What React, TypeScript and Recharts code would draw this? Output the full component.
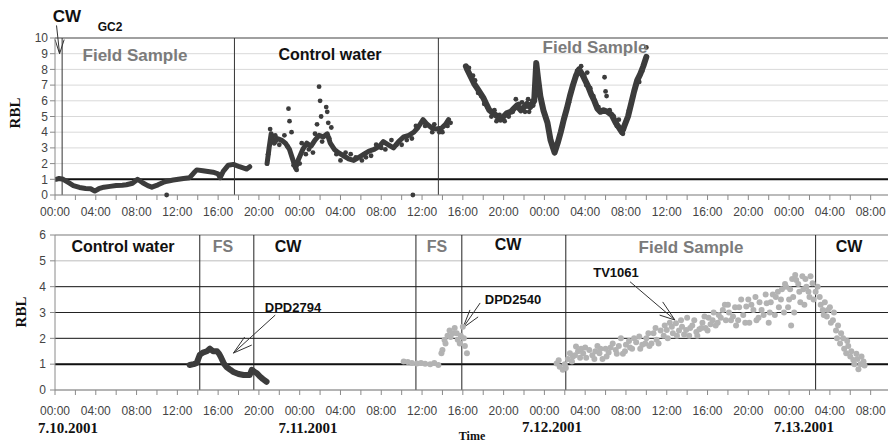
import React from 'react';
import {
  ComposedChart,
  Line,
  Scatter,
  XAxis,
  YAxis,
  CartesianGrid,
  ReferenceLine,
} from 'recharts';

// hours since 7.10.2001 00:00
const hourTicks = [
  0, 2, 4, 6, 8, 10, 12, 14, 16, 18, 20, 22, 24, 26, 28, 30, 32, 34, 36, 38, 40,
  42, 44, 46, 48, 50, 52, 54, 56, 58, 60, 62, 64, 66, 68, 70, 72, 74, 76, 78, 80,
];
const clockLabels = ['00:00', '04:00', '08:00', '12:00', '16:00', '20:00'];
const topYTicks = [0, 1, 2, 3, 4, 5, 6, 7, 8, 9, 10];
const bottomYTicks = [0, 1, 2, 3, 4, 5, 6];

// section boundaries (hours)
const topDividers = [0.7, 17.6, 37.6];
const bottomDividers = [14.2, 19.5, 35.4, 39.9, 50.1, 74.6];

// ---- top panel: GC2 ----
const gc2FieldA: [number, number][] = [
  [0.1, 1.0], [0.4, 1.05], [0.8, 1.0], [1.3, 0.8], [1.8, 0.6], [2.4, 0.48], [3.0, 0.42],
  [3.5, 0.4], [3.9, 0.25], [4.3, 0.4], [4.8, 0.5], [5.4, 0.55], [6.0, 0.6], [6.6, 0.62],
  [7.0, 0.65], [7.6, 0.75], [8.1, 1.0], [8.6, 0.78], [9.1, 0.6], [9.5, 0.5], [10.1, 0.65],
  [10.6, 0.8], [11.0, 0.88], [11.6, 0.95], [12.1, 1.0], [12.6, 1.05], [13.2, 1.1],
  [13.6, 1.4], [13.9, 1.6], [14.5, 1.55], [15.0, 1.5], [15.5, 1.45], [16.0, 1.35],
  [16.2, 1.1], [16.5, 1.5], [17.0, 1.9], [17.5, 1.95], [18.1, 1.8], [18.8, 1.65], [19.1, 1.8],
];
const gc2Control: [number, number][] = [
  [20.8, 2.0], [21.0, 3.0], [21.2, 3.9], [21.5, 3.3], [21.8, 3.6], [22.2, 3.5], [22.6, 3.3],
  [23.0, 2.9], [23.3, 2.3], [23.6, 1.7], [23.9, 2.3], [24.3, 2.9], [24.7, 3.3], [25.1, 3.1],
  [25.5, 3.5], [25.9, 3.8], [26.3, 3.7], [26.7, 3.9], [27.0, 3.3], [27.4, 2.9], [27.8, 2.7],
  [28.3, 2.5], [28.8, 2.3], [29.3, 2.2], [29.8, 2.4], [30.3, 2.6], [30.8, 2.8], [31.3, 2.9],
  [31.8, 3.1], [32.2, 3.4], [32.7, 3.2], [33.2, 3.0], [33.7, 3.4], [34.2, 3.7], [34.7, 3.8],
  [35.2, 4.0], [35.6, 4.3], [36.1, 4.8], [36.5, 4.5], [36.9, 4.3], [37.4, 4.2], [37.9, 4.25],
  [38.3, 4.5], [38.6, 4.8],
];
const gc2FieldB: [number, number][] = [
  [40.3, 8.2], [40.5, 7.9], [40.8, 7.5], [41.1, 7.1], [41.4, 6.8], [41.7, 6.5], [42.0, 6.2],
  [42.3, 5.8], [42.6, 5.4], [43.0, 5.2], [43.4, 5.0], [43.7, 4.8], [44.0, 5.0], [44.3, 5.2],
  [44.7, 5.3], [45.0, 5.5], [45.3, 5.7], [45.7, 5.4], [46.0, 5.6], [46.3, 5.8], [46.6, 5.6],
  [47.0, 6.0], [47.2, 8.4], [47.4, 7.3], [47.6, 6.3], [47.9, 5.4], [48.3, 4.6], [48.6, 3.5],
  [49.0, 2.7], [49.3, 3.3], [49.6, 4.0], [49.9, 4.8], [50.2, 5.5], [50.5, 6.3], [50.8, 7.0],
  [51.1, 7.6], [51.4, 8.0], [51.7, 7.7], [52.0, 7.3], [52.3, 6.9], [52.6, 6.4], [52.9, 6.0],
  [53.2, 5.5], [53.5, 5.3], [53.8, 5.4], [54.2, 5.3], [54.6, 5.1], [55.0, 4.6], [55.3, 4.3],
  [55.6, 4.0], [55.9, 4.5], [56.2, 5.0], [56.5, 5.8], [56.8, 6.6], [57.1, 7.3], [57.4, 7.7],
  [57.7, 8.2], [58.0, 8.8],
];
const gc2Spread: [number, number][] = [
  [10.95, 0], [35.1, 0],
  [20.9, 2.6], [21.1, 4.2], [21.3, 3.4], [21.6, 3.8], [22.0, 3.2], [22.5, 3.8], [22.8, 3.1],
  [22.9, 5.5], [23.0, 4.7], [23.2, 4.0], [23.4, 1.9], [23.7, 1.6], [24.0, 2.0], [24.2, 3.3],
  [24.6, 2.6], [24.9, 2.9], [25.3, 2.7], [25.5, 3.9], [25.7, 4.5], [25.9, 6.9], [26.0, 6.0],
  [26.1, 5.0], [26.2, 3.4], [26.6, 5.6], [26.7, 5.3], [26.8, 4.6], [26.9, 3.6], [27.1, 4.3],
  [27.6, 2.6], [28.0, 2.2], [28.5, 2.7], [29.0, 2.6], [29.5, 2.4], [30.1, 2.2], [30.5, 2.4],
  [31.0, 2.5], [31.5, 3.2], [32.0, 3.0], [32.4, 2.9], [33.0, 3.5], [33.5, 3.2], [34.0, 3.2],
  [34.5, 3.5], [35.0, 3.6], [35.4, 4.4], [36.3, 4.4], [37.0, 4.0], [37.2, 4.5], [37.7, 4.0],
  [38.0, 4.0], [38.5, 4.4], [38.8, 4.6],
  [40.4, 8.0], [40.6, 8.1], [41.0, 7.6], [41.2, 7.3], [41.5, 6.5], [41.8, 6.3], [42.1, 5.8],
  [42.4, 5.6], [42.8, 5.0], [43.1, 5.4], [43.3, 4.7], [43.6, 5.1], [44.1, 4.7], [44.5, 5.0],
  [44.9, 5.3], [45.2, 6.1], [45.5, 5.8], [45.8, 5.9], [46.1, 5.3], [46.4, 6.1], [46.5, 5.3],
  [46.8, 6.0], [46.9, 5.7], [47.2, 7.9], [47.3, 6.8], [48.1, 5.0], [48.8, 3.1], [49.1, 2.9],
  [49.8, 4.4], [50.4, 5.9], [51.2, 7.9], [51.6, 8.2], [51.9, 7.6], [52.1, 7.0], [52.2, 7.8],
  [52.5, 6.8], [52.8, 6.3], [53.3, 5.6], [53.9, 7.5], [54.0, 6.6], [54.1, 6.3], [54.4, 5.4],
  [54.8, 5.0], [55.1, 4.4], [55.3, 4.8], [55.5, 4.2], [55.7, 3.9], [55.8, 4.2], [56.3, 5.4],
  [56.7, 6.3], [57.0, 7.0], [57.3, 7.2], [57.6, 7.9], [58.0, 9.4],
];

// ---- bottom panel: DPD2794 (dark) and DPD2540 / TV1061 (light) ----
const dpd2794: [number, number][] = [
  [13.2, 0.97], [13.6, 1.0], [13.9, 1.05], [14.2, 1.36], [14.5, 1.45], [14.9, 1.5],
  [15.2, 1.6], [15.5, 1.5], [15.9, 1.5], [16.1, 1.4], [16.3, 1.25], [16.6, 1.0], [16.8, 0.9],
  [17.2, 0.78], [17.5, 0.7], [18.0, 0.62], [18.5, 0.58], [19.1, 0.58], [19.3, 0.78],
  [19.6, 0.7], [19.8, 0.65], [20.1, 0.52], [20.4, 0.42], [20.75, 0.32],
];
const dpd2540: [number, number][] = [
  [34.2, 1.1], [34.6, 1.08], [35.0, 1.05], [35.5, 1.03], [35.9, 1.05], [36.3, 1.02],
  [36.8, 1.0], [37.2, 1.05], [37.6, 0.97], [37.9, 1.42], [38.0, 1.55], [38.2, 1.94],
  [38.3, 1.8], [38.5, 2.1], [38.7, 2.3], [38.8, 2.05], [39.0, 2.2], [39.2, 2.4], [39.4, 2.2],
  [39.5, 1.95], [39.7, 1.8], [39.8, 2.1], [40.0, 2.45], [40.1, 2.0], [40.2, 1.7], [40.4, 1.42],
];
const tv1061: [number, number][] = [
  [49.2, 1.03], [49.4, 1.15], [49.5, 0.9], [49.8, 0.78], [50.0, 1.0], [50.1, 0.85], [50.3, 1.2],
  [50.5, 1.42], [50.7, 1.1], [50.8, 1.3], [51.0, 1.35], [51.1, 1.68], [51.3, 1.5], [51.5, 1.25],
  [51.6, 1.6], [51.8, 1.42], [52.0, 1.65], [52.1, 1.25], [52.4, 1.55], [52.7, 1.35], [52.9, 1.2],
  [53.0, 1.5], [53.2, 1.7], [53.4, 1.42], [53.5, 1.6], [53.7, 1.2], [54.0, 1.6], [54.1, 1.3],
  [54.3, 1.45], [54.5, 1.65], [54.7, 1.8], [55.0, 1.55], [55.1, 1.4], [55.3, 1.7], [55.5, 2.0],
  [55.7, 1.4], [55.9, 1.5], [56.0, 1.75], [56.3, 1.9], [56.4, 1.65], [56.6, 1.6], [56.8, 2.0],
  [57.0, 1.85], [57.3, 2.07], [57.4, 1.6], [57.6, 1.75], [57.9, 1.8], [58.0, 2.0], [58.2, 2.2],
  [58.3, 1.7], [58.5, 1.8], [58.7, 2.2], [58.9, 2.4], [59.0, 1.95], [59.2, 1.8], [59.4, 2.3],
  [59.7, 2.1], [59.8, 2.5], [60.0, 2.32], [60.1, 2.0], [60.3, 2.6], [60.5, 2.45], [60.6, 2.2],
  [60.9, 2.58], [61.0, 2.1], [61.2, 2.3], [61.4, 2.7], [61.5, 2.45], [61.7, 2.15], [61.9, 2.32],
  [62.0, 2.8], [62.2, 2.1], [62.3, 2.4], [62.5, 2.5], [62.7, 2.7], [62.9, 2.25], [63.0, 2.1],
  [63.2, 2.35], [63.4, 2.4], [63.5, 2.6], [63.7, 2.85], [63.8, 2.4], [64.0, 2.3], [64.1, 2.8],
  [64.3, 2.55], [64.5, 2.7], [64.6, 3.0], [64.8, 2.5], [65.0, 2.6], [65.1, 2.9], [65.3, 2.8],
  [65.5, 3.1], [65.7, 3.3], [65.8, 2.7], [66.0, 3.3], [66.1, 3.0], [66.3, 2.7], [66.5, 2.85],
  [66.7, 3.2], [66.8, 2.5], [67.0, 2.7], [67.1, 3.2], [67.3, 3.5], [67.5, 2.9], [67.7, 2.6],
  [67.8, 3.23], [68.0, 3.5], [68.1, 2.6], [68.3, 3.3], [68.5, 3.1], [68.7, 3.6], [68.8, 2.7],
  [69.0, 2.8], [69.1, 3.4], [69.3, 3.1], [69.5, 2.9], [69.7, 3.7], [69.8, 3.36], [70.0, 2.6],
  [70.1, 3.0], [70.2, 3.4], [70.4, 3.7], [70.6, 2.9], [70.7, 3.6], [70.9, 3.8], [71.0, 3.2],
  [71.2, 3.5], [71.3, 3.9], [71.5, 3.0], [71.6, 4.1], [71.7, 4.0], [71.9, 3.2], [72.0, 3.5],
  [72.1, 3.9], [72.2, 2.5], [72.3, 4.3], [72.4, 3.6], [72.5, 3.0], [72.6, 4.45], [72.7, 4.26],
  [72.9, 4.1], [73.0, 3.8], [73.1, 3.4], [73.3, 4.4], [73.4, 3.9], [73.5, 3.3], [73.6, 4.3],
  [73.7, 4.0], [73.9, 3.8], [74.0, 3.6], [74.1, 4.4], [74.3, 4.13], [74.4, 3.5], [74.6, 3.8],
  [74.8, 4.0], [75.0, 3.6], [75.1, 3.3], [75.3, 3.1], [75.4, 2.9], [75.5, 3.4], [75.7, 2.85],
  [75.8, 3.1], [76.0, 3.2], [76.1, 2.6], [76.3, 2.7], [76.4, 3.0], [76.6, 2.3], [76.7, 2.0],
  [76.8, 2.5], [77.0, 1.8], [77.1, 2.2], [77.3, 2.0], [77.4, 1.6], [77.6, 1.42], [77.7, 1.9],
  [77.8, 1.7], [78.0, 1.3], [78.1, 1.5], [78.3, 1.16], [78.4, 1.0], [78.6, 1.4], [78.7, 1.2],
  [78.8, 0.8], [79.0, 1.0], [79.1, 1.3], [79.3, 1.1], [79.4, 0.95],
];

const toRows = (pts: [number, number][]) => pts.map(([t, v]) => ({ t, v }));

const DARK = '#3c3c3c';
const LIGHT = '#b3b3b3';
const SECTION_GRAY = '#7b7b7b';
const AXIS = '#8a8a8a';

const fmtHour = (h: number) => (h % 4 === 0 ? clockLabels[(h % 24) / 4] : '');

const tickStyle = { fontFamily: '"Liberation Sans", Arial, sans-serif', fontSize: 12, fill: '#444' };

const dot = (r: number, color: string) => (props: any) =>
  <circle cx={props.cx} cy={props.cy} r={r} fill={color} />;

const Txt: React.FC<{ x: number; y: number; style?: React.CSSProperties; children: React.ReactNode }> = ({
  x, y, style, children,
}) => (
  <div
    style={{
      position: 'absolute', left: x, top: y, transform: 'translate(-50%, -50%)', whiteSpace: 'nowrap',
      fontFamily: '"Liberation Sans", Arial, sans-serif', fontWeight: 'bold', fontSize: 16, color: '#111',
      lineHeight: 1, ...style,
    }}
  >
    {children}
  </div>
);

const serif: React.CSSProperties = { fontFamily: '"Liberation Serif", "Times New Roman", serif', fontSize: 15 };

const arrow = (pts: [number, number][], key: string) =>
  pts.slice(1).map((p, i) => (
    <ReferenceLine
      key={key + i}
      segment={[{ x: pts[0][0], y: pts[0][1] }, { x: p[0], y: p[1] }]}
      stroke="#333"
      strokeWidth={1}
      ifOverflow="visible"
    />
  ));

export default function App() {
  return (
    <div style={{ position: 'absolute', left: 0, top: 0, width: 889, height: 442, background: '#fff', overflow: 'hidden' }}>
      <div style={{ position: 'absolute', left: 0, top: 0 }}>
        <ComposedChart width={889} height={222} margin={{ top: 38, right: 1, bottom: 0, left: 0 }}>
          <CartesianGrid horizontal vertical={false} stroke="#d9d9d9" />
          <XAxis
            type="number" dataKey="t" domain={[0, 81.7]} ticks={hourTicks} tickFormatter={fmtHour}
            interval={0} height={27} tick={tickStyle} tickSize={5} tickMargin={7}
            stroke={AXIS} allowDataOverflow
          />
          <YAxis
            type="number" dataKey="v" domain={[0, 10]} ticks={topYTicks} width={55} interval={0}
            tick={tickStyle} tickSize={5} tickMargin={2} stroke={AXIS}
          />
          <ReferenceLine y={10} stroke="#555" />
          <ReferenceLine y={1} stroke="#111" strokeWidth={2} />
          {topDividers.map((d) => (
            <ReferenceLine key={d} x={d} stroke="#333" />
          ))}
          {arrow([[0.45, 9.0], [0.15, 10.8], [0.0, 9.9], [0.9, 9.9]], 'cw')}
          <Line data={toRows(gc2FieldA)} dataKey="v" stroke={DARK} strokeWidth={5} strokeLinejoin="round" strokeLinecap="round" dot={false} isAnimationActive={false} />
          <Line data={toRows(gc2Control)} dataKey="v" stroke={DARK} strokeWidth={5} strokeLinejoin="round" strokeLinecap="round" dot={false} isAnimationActive={false} />
          <Line data={toRows(gc2FieldB)} dataKey="v" stroke={DARK} strokeWidth={6} strokeLinejoin="round" strokeLinecap="round" dot={false} isAnimationActive={false} />
          <Scatter data={toRows(gc2Spread)} dataKey="v" fill={DARK} shape={dot(2.4, DARK)} isAnimationActive={false} />
        </ComposedChart>
      </div>

      <div style={{ position: 'absolute', left: 0, top: 222 }}>
        <ComposedChart width={889} height={220} margin={{ top: 13, right: 1, bottom: 0, left: 0 }}>
          <CartesianGrid horizontal vertical={false} stroke="#bdbdbd" />
          <XAxis
            type="number" dataKey="t" domain={[0, 81.7]} ticks={hourTicks} tickFormatter={fmtHour}
            interval={0} height={52} tick={tickStyle} tickSize={5} tickMargin={11}
            stroke={AXIS} allowDataOverflow
          />
          <YAxis
            type="number" dataKey="v" domain={[0, 6]} ticks={bottomYTicks} width={55} interval={0}
            tick={tickStyle} tickSize={5} tickMargin={4} stroke={AXIS}
          />
          <ReferenceLine y={6} stroke="#999" />
          <ReferenceLine y={4} stroke="#222" />
          <ReferenceLine y={3} stroke="#222" />
          <ReferenceLine y={2} stroke="#222" />
          <ReferenceLine y={1} stroke="#111" strokeWidth={2} />
          {bottomDividers.map((d) => (
            <ReferenceLine key={d} x={d} stroke="#222" />
          ))}
          {arrow([[17.5, 1.43], [21.6, 2.9], [18.6, 2.05], [19.3, 1.74]], 'a1')}
          {arrow([[40.0, 2.4], [41.7, 3.37], [40.7, 3.1], [41.5, 2.83]], 'a2')}
          {arrow([[60.8, 2.71], [56.4, 4.19], [59.6, 3.41], [59.3, 2.9]], 'a3')}
          <Scatter data={toRows(dpd2540)} dataKey="v" fill={LIGHT} shape={dot(3, LIGHT)} isAnimationActive={false} />
          <Scatter data={toRows(tv1061)} dataKey="v" fill={LIGHT} shape={dot(3, LIGHT)} isAnimationActive={false} />
          <Line data={toRows(dpd2794)} dataKey="v" stroke={DARK} strokeWidth={6} strokeLinejoin="round" strokeLinecap="round" dot={false} isAnimationActive={false} />
        </ComposedChart>
      </div>

      {/* top panel texts */}
      <Txt x={67} y={16} style={{ fontSize: 17 }}>CW</Txt>
      <Txt x={110} y={27} style={{ fontSize: 12 }}>GC2</Txt>
      <Txt x={135} y={55} style={{ color: SECTION_GRAY, fontSize: 17 }}>Field Sample</Txt>
      <Txt x={330} y={55}>Control water</Txt>
      <Txt x={595} y={47} style={{ color: SECTION_GRAY, fontSize: 17 }}>Field Sample</Txt>
      <Txt x={15} y={113} style={{ ...serif, transform: 'translate(-50%, -50%) rotate(-90deg)' }}>RBL</Txt>

      {/* bottom panel texts */}
      <Txt x={123} y={247}>Control water</Txt>
      <Txt x={223} y={247} style={{ color: SECTION_GRAY }}>FS</Txt>
      <Txt x={288} y={247}>CW</Txt>
      <Txt x={437} y={247} style={{ color: SECTION_GRAY }}>FS</Txt>
      <Txt x={508} y={245}>CW</Txt>
      <Txt x={691} y={247} style={{ color: SECTION_GRAY, fontSize: 17 }}>Field Sample</Txt>
      <Txt x={849} y={247}>CW</Txt>
      <Txt x={293} y={307} style={{ fontSize: 13 }}>DPD2794</Txt>
      <Txt x={513} y={299} style={{ fontSize: 13 }}>DPD2540</Txt>
      <Txt x={616} y={272} style={{ fontSize: 13 }}>TV1061</Txt>
      <Txt x={21} y={312} style={{ ...serif, transform: 'translate(-50%, -50%) rotate(-90deg)' }}>RBL</Txt>

      <Txt x={68} y={428} style={serif}>7.10.2001</Txt>
      <Txt x={308} y={428} style={serif}>7.11.2001</Txt>
      <Txt x={552} y={427} style={serif}>7.12.2001</Txt>
      <Txt x={804} y={427} style={serif}>7.13.2001</Txt>
      <Txt x={472} y={436} style={{ ...serif, fontSize: 12 }}>Time</Txt>
    </div>
  );
}
